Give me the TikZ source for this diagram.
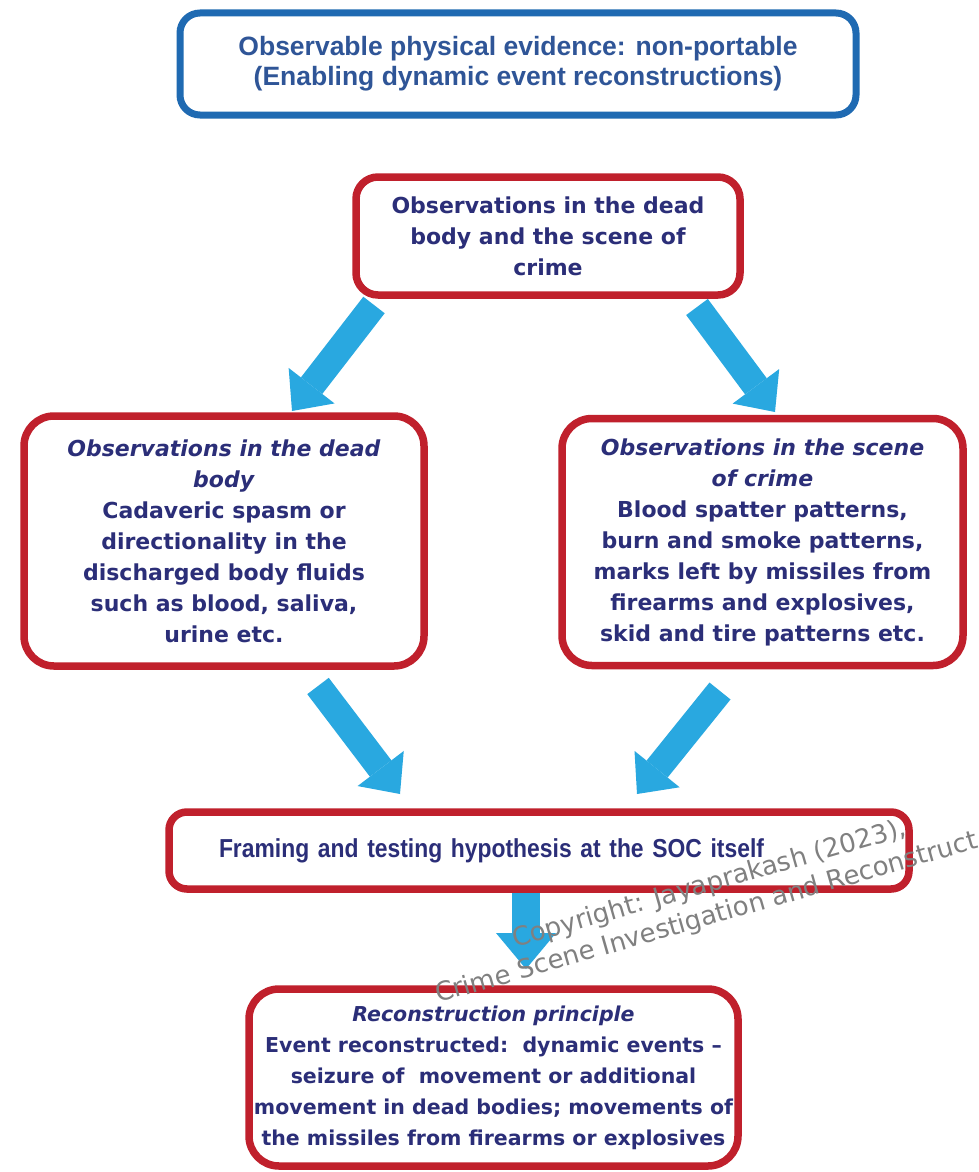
\documentclass[tikz,border=0pt]{standalone}
\usepackage{fontspec}
\setmainfont{DejaVu Sans}[BoldFont={DejaVu Sans Bold},ItalicFont={DejaVu Sans Oblique},BoldItalicFont={DejaVu Sans Bold Oblique}]
\newfontfamily\headfont{Liberation Sans}
\newfontfamily\narrowfont{Liberation Sans}[FakeStretch=0.88]
\newfontfamily\markfont{DejaVu Sans}
\usetikzlibrary{arrows.meta}

\definecolor{boxred}{RGB}{192,32,44}
\definecolor{boxblue}{RGB}{31,106,178}
\definecolor{headblue}{RGB}{47,85,151}
\definecolor{navy}{RGB}{43,46,120}
\definecolor{arrowblue}{RGB}{41,168,224}
\definecolor{markgray}{RGB}{128,128,128}

\tikzset{
  bluebox/.style={draw=boxblue, line width=7pt, rounded corners=20pt, fill=white,
    inner sep=0pt, align=center, text=headblue,
    font=\headfont\bfseries\fontsize{26.5}{30}\selectfont},
  redbox/.style={draw=boxred, line width=7.5pt, fill=white, inner sep=0pt,
    align=center, text=navy, font=\bfseries\fontsize{22}{31}\selectfont},
  flow/.style={draw=arrowblue, line width=27pt,
    -{Triangle[width=58pt,length=32pt,line width=0pt]}},
  flowdown/.style={draw=arrowblue, line width=28pt,
    -{Triangle[width=60pt,length=36pt,line width=0pt]}},
  wmark/.style={text=markgray, anchor=base west, rotate=16, inner sep=0pt,
    font=\markfont\fontsize{26}{30}\selectfont}
}

\begin{document}
\begin{tikzpicture}[x=1pt,y=-1pt]
\useasboundingbox (0,0) rectangle (978,1172);
\fill[white] (0,0) rectangle (978,1172);

% boxes
\node[bluebox, minimum width=676pt, minimum height=102pt] (top) at (518,64)
  {Observable physical evidence: non-portable\\(Enabling dynamic event reconstructions)};

\node[redbox, rounded corners=22pt, minimum width=384pt, minimum height=118pt] (both) at (548,236)
  {Observations in the dead\\body and the scene of\\crime};

\node[redbox, rounded corners=30pt, minimum width=400pt, minimum height=250pt] (body) at (224,541)
  {\textit{Observations in the dead}\\\textit{body}\\Cadaveric spasm or\\directionality in the\\discharged body fluids\\such as blood, saliva,\\urine etc.};

\node[redbox, rounded corners=30pt, minimum width=401pt, minimum height=247pt] (scene) at (762.5,542)
  {\textit{Observations in the scene}\\\textit{of crime}\\Blood spatter patterns,\\burn and smoke patterns,\\marks left by missiles from\\firearms and explosives,\\skid and tire patterns etc.};

\node[redbox, rounded corners=18pt, minimum width=740pt, minimum height=77pt,
  text width=640pt, align=left, font=\narrowfont\bfseries\fontsize{26}{30}\selectfont] (soc) at (539,850.5)
  {Framing and testing hypothesis at the SOC itself};

\node[redbox, rounded corners=30pt, minimum width=489pt, minimum height=177pt,
  font=\bfseries\fontsize{20.5}{31}\selectfont] (rec) at (493.5,1077.5)
  {\textit{Reconstruction principle}\\Event reconstructed:\ \ dynamic events --\\seizure of\ \ movement or additional\\movement in dead bodies; movements of\\the missiles from firearms or explosives};

% block arrows between the boxes
\coordinate (a1s) at (374,305);  \coordinate (a1e) at (292,411);
\coordinate (a2s) at (697,307);  \coordinate (a2e) at (775,412);
\coordinate (a3s) at (318,686);  \coordinate (a3e) at (400,794);
\coordinate (a4s) at (720,691);  \coordinate (a4e) at (637,794);
\coordinate (a5s) at (526,893);  \coordinate (a5e) at (526,969);

\draw[flow] (a1s) -- (a1e);
\draw[flow] (a2s) -- (a2e);
\draw[flow] (a3s) -- (a3e);
\draw[flow] (a4s) -- (a4e);
\draw[flowdown] (a5s) -- (a5e);

% copyright mark
\node[wmark] (wm1) at (515,948) {Copyright: Jayaprakash (2023),};
\node[wmark] (wm2) at (438,1003) {Crime Scene Investigation and Reconstruct};
\end{tikzpicture}
\end{document}
